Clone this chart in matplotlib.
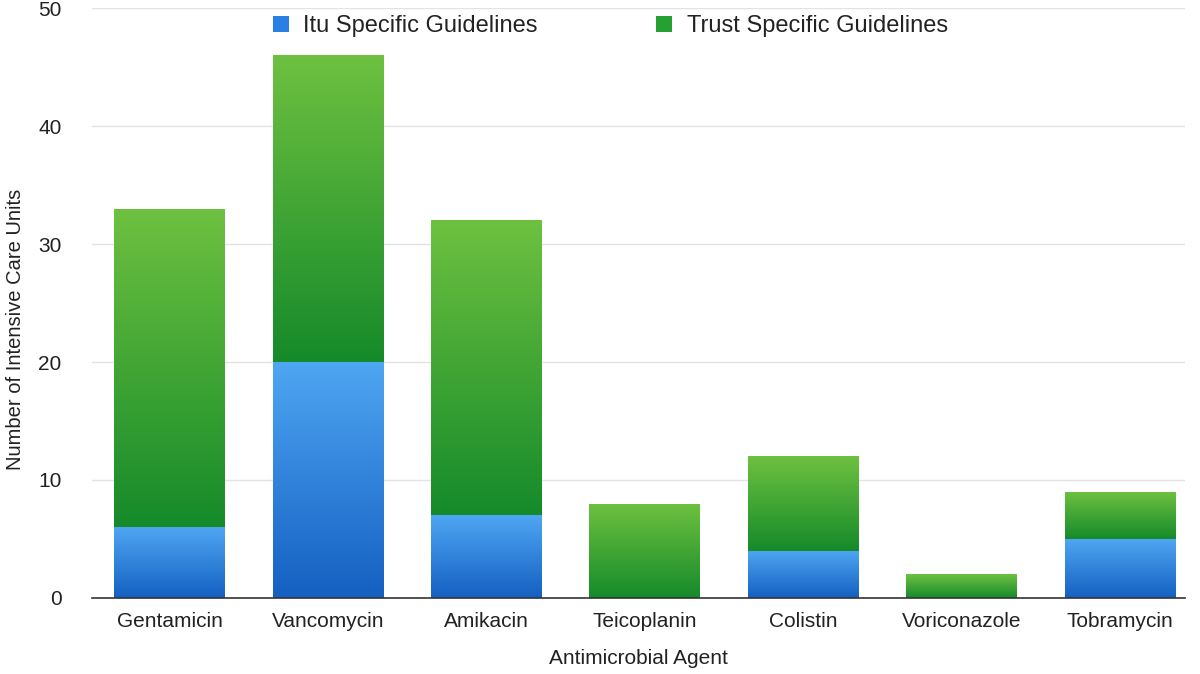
import numpy as np
import matplotlib
matplotlib.use("Agg")
import matplotlib.pyplot as plt
from matplotlib.colors import LinearSegmentedColormap
from matplotlib.patches import Patch

agents = ["Gentamicin", "Vancomycin", "Amikacin", "Teicoplanin",
          "Colistin", "Voriconazole", "Tobramycin"]
itu_specific = [6, 20, 7, 0, 4, 0, 5]
trust_specific = [27, 26, 25, 8, 8, 2, 4]

plt.rcParams["font.family"] = ["Liberation Sans", "DejaVu Sans"]

fig = plt.figure(figsize=(12, 6.74), dpi=100)
ax = fig.add_axes([0.0767, 0.1128, 0.9108, 0.8752])

blue_cmap = LinearSegmentedColormap.from_list("blue", ["#1460c2", "#4fa6f2"])
green_cmap = LinearSegmentedColormap.from_list("green", ["#158a2a", "#6ec140"])
grad = np.linspace(0, 1, 256).reshape(-1, 1)

x = np.arange(len(agents))
width = 0.70


def gradient_bars(bars, cmap):
    for p in bars:
        x0, y0 = p.get_x(), p.get_y()
        w, h = p.get_width(), p.get_height()
        if h <= 0:
            continue
        im = ax.imshow(grad, cmap=cmap, aspect="auto", origin="lower",
                       extent=[x0, x0 + w, y0, y0 + h], zorder=3,
                       interpolation="bilinear")
        im.set_clip_path(p)


b1 = ax.bar(x, itu_specific, width, facecolor="none", edgecolor="none", zorder=3)
b2 = ax.bar(x, trust_specific, width, bottom=itu_specific,
            facecolor="none", edgecolor="none", zorder=3)
gradient_bars(b1, blue_cmap)
gradient_bars(b2, green_cmap)

ax.set_xlim(-0.49, 6.41)
ax.set_ylim(0, 50)
ax.set_yticks(range(0, 51, 10))
ax.set_xticks(x)
ax.set_xticklabels(agents)
ax.yaxis.grid(True, color="#e3e3e3", linewidth=1.0)
ax.set_axisbelow(True)

for s in ["top", "right", "left"]:
    ax.spines[s].set_visible(False)
ax.spines["bottom"].set_color("#333333")
ax.spines["bottom"].set_linewidth(1.2)
ax.spines["bottom"].set_zorder(4)

ax.tick_params(axis="both", length=0, labelsize=15, colors="#222222")
ax.tick_params(axis="y", pad=22)
ax.tick_params(axis="x", pad=10)

ax.set_ylabel("Number of Intensive Care Units", fontsize=14.5, color="#222222")
ax.yaxis.set_label_coords(-0.061, 0.455)
ax.set_xlabel("Antimicrobial Agent", fontsize=15, color="#222222")
ax.xaxis.set_label_coords(0.5, -0.087)

handles = [Patch(facecolor="#2a80e2", edgecolor="none"),
           Patch(facecolor="#27a033", edgecolor="none")]
ax.legend(handles, ["Itu Specific Guidelines", "Trust Specific Guidelines"],
          loc="center", bbox_to_anchor=(0.474, 0.969), ncol=2, frameon=False,
          fontsize=17, handlelength=0.7, handleheight=0.65, handletextpad=0.6,
          columnspacing=5.0, labelcolor="#222222")

fig.savefig("out.png", dpi=100)
